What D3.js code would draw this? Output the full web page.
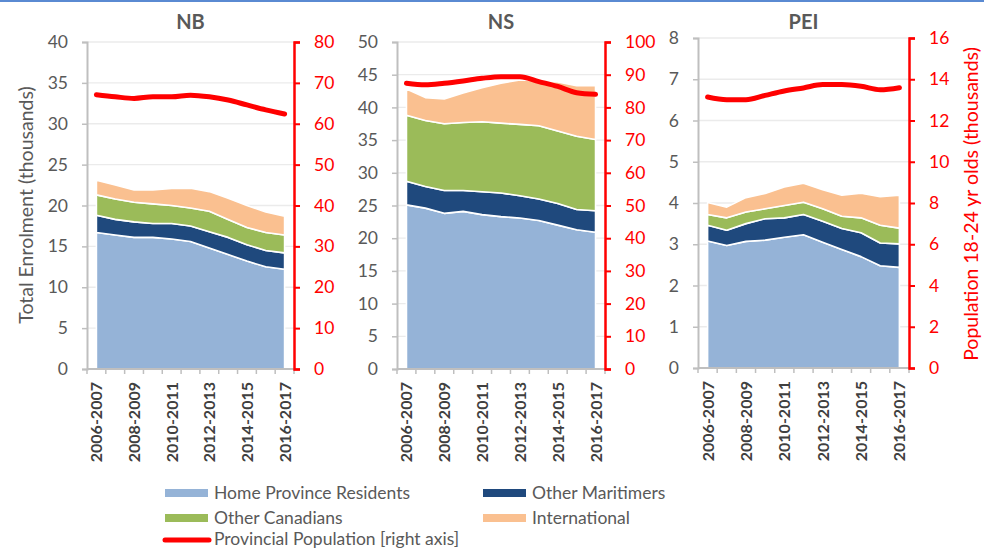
<!DOCTYPE html>
<html><head><meta charset="utf-8">
<script src="https://cdn.jsdelivr.net/npm/d3@7"></script>
<style>
html,body{margin:0;padding:0;background:#fff;}
svg{display:block;font-family:Lato,"Open Sans",sans-serif;}
</style></head>
<body>
<svg id="chart" width="984" height="549"></svg>
<script>
const years = ["2006-2007","2007-2008","2008-2009","2009-2010","2010-2011","2011-2012","2012-2013","2013-2014","2014-2015","2015-2016","2016-2017"];
const seriesNames = ["Home Province Residents","Other Maritimers","Other Canadians","International"];
const popName = "Provincial Population [right axis]";

const nbHome = [16.7,16.4,16.1,16.1,15.9,15.6,14.8,14.0,13.2,12.5,12.2];
const nbOther = [2.1,1.9,1.9,1.7,1.9,1.9,2.0,2.1,2.0,2.0,2.0];
const nbCanadians = [2.5,2.5,2.4,2.4,2.2,2.2,2.5,2.2,2.1,2.2,2.2];
const nbIntl = [1.8,1.7,1.5,1.7,2.1,2.4,2.4,2.6,2.7,2.5,2.3];
const nbPop = [67.1,66.6,66.2,66.6,66.6,67.0,66.6,65.8,64.6,63.4,62.4];

const nsHome = [25.1,24.6,23.8,24.1,23.6,23.3,23.1,22.7,22.0,21.3,20.9];
const nsOther = [3.6,3.3,3.5,3.2,3.5,3.6,3.4,3.3,3.3,3.1,3.3];
const nsCanadians = [10.1,10.1,10.2,10.4,10.7,10.7,10.9,11.2,11.1,11.2,10.9];
const nsIntl = [4.0,3.5,3.8,4.5,5.2,6.1,6.8,6.9,7.5,7.7,8.2];
const nsPop = [87.4,86.9,87.4,88.1,88.9,89.4,89.4,87.9,86.4,84.5,84.0];

const peiHome = [3.08,2.97,3.07,3.10,3.17,3.23,3.05,2.87,2.70,2.48,2.44];
const peiOther = [0.38,0.37,0.43,0.52,0.47,0.49,0.51,0.51,0.58,0.55,0.57];
const peiCanadians = [0.26,0.30,0.28,0.24,0.30,0.30,0.30,0.30,0.36,0.43,0.38];
const peiIntl = [0.29,0.26,0.35,0.37,0.45,0.46,0.46,0.51,0.60,0.69,0.80];
const peiPop = [13.14,13.01,13.01,13.22,13.43,13.58,13.74,13.74,13.66,13.49,13.59];

const nbLeftTicks = [0,5,10,15,20,25,30,35,40];
const nbRightTicks = [0,10,20,30,40,50,60,70,80];
const nsLeftTicks = [0,5,10,15,20,25,30,35,40,45,50];
const nsRightTicks = [0,10,20,30,40,50,60,70,80,90,100];
const peiLeftTicks = [0,1,2,3,4,5,6,7,8];
const peiRightTicks = [0,2,4,6,8,10,12,14,16];

const colors = ["#95b3d7","#1f497d","#9bbb59","#fac090"];
const red = "#ff0000";
const gray = "#595959";

const panels = [
  {title:"NB", series:[nbHome,nbOther,nbCanadians,nbIntl], pop:nbPop, lt:nbLeftTicks, rt:nbRightTicks, x0:87, x1:294, yT:42, yB:369},
  {title:"NS", series:[nsHome,nsOther,nsCanadians,nsIntl], pop:nsPop, lt:nsLeftTicks, rt:nsRightTicks, x0:397, x1:605, yT:42, yB:369},
  {title:"PEI", series:[peiHome,peiOther,peiCanadians,peiIntl], pop:peiPop, lt:peiLeftTicks, rt:peiRightTicks, x0:698, x1:909, yT:38, yB:368}
];

const svg = d3.select("#chart");
svg.append("rect").attr("x",0).attr("y",0).attr("width",984).attr("height",2).attr("fill","#5a8ad2");

panels.forEach(p => {
  const g = svg.append("g");
  const xb = d3.scaleBand().domain(years).range([p.x0,p.x1]).paddingInner(0).paddingOuter(0);
  const cx = d => xb(d) + xb.bandwidth()/2;
  const y = d3.scaleLinear().domain([p.lt[0], p.lt[p.lt.length-1]]).range([p.yB,p.yT]);
  const yr = d3.scaleLinear().domain([p.rt[0], p.rt[p.rt.length-1]]).range([p.yB,p.yT]);

  g.selectAll(".grid").data(p.lt.slice(1)).join("line")
    .attr("x1",p.x0).attr("x2",p.x1).attr("y1",d=>y(d)).attr("y2",d=>y(d))
    .attr("stroke","#ebebeb").attr("stroke-width",1.3);

  const rows = years.map((yy,i)=>{const o={year:yy}; seriesNames.forEach((s,k)=>o[s]=p.series[k][i]); return o;});
  const stacked = d3.stack().keys(seriesNames)(rows);
  const area = d3.area().x(d=>cx(d.data.year)).y0(d=>y(d[0])).y1(d=>y(d[1]));
  g.selectAll(".layer").data(stacked).join("path")
    .attr("d",area).attr("fill",(d,i)=>colors[i])
    .attr("stroke","#fff").attr("stroke-width",1.6).attr("stroke-linejoin","round");

  const la = g.append("g").attr("transform",`translate(${p.x0},0)`)
    .call(d3.axisLeft(y).tickValues(p.lt).tickSize(5).tickPadding(14).tickFormat(d3.format("d")));
  la.select(".domain").attr("stroke","#bfbfbf").attr("stroke-width",2);
  la.selectAll(".tick line").attr("stroke","#bfbfbf").attr("stroke-width",1.5);
  la.selectAll(".tick text").attr("fill",gray).attr("font-size",17.5).attr("font-family","Lato");

  g.append("line").attr("x1",p.x0).attr("x2",p.x1).attr("y1",p.yB).attr("y2",p.yB)
    .attr("stroke","#bfbfbf").attr("stroke-width",2);
  const edges = years.map(d=>xb(d)).concat([p.x1]);
  g.selectAll(".xt").data(edges).join("line")
    .attr("x1",d=>d).attr("x2",d=>d).attr("y1",p.yB).attr("y2",p.yB+5)
    .attr("stroke","#bfbfbf").attr("stroke-width",1.5);
  g.selectAll(".xl").data(years.filter((d,i)=>i%2===0)).join("text")
    .attr("transform",d=>`translate(${cx(d)+6},${p.yB+13}) rotate(-90)`)
    .attr("text-anchor","end").attr("font-size",16).attr("font-weight","bold")
    .attr("fill","#404040").text(d=>d);

  const line = d3.line().x((d,i)=>cx(years[i])).y(d=>yr(d)).curve(d3.curveMonotoneX);
  g.append("path").attr("d",line(p.pop)).attr("fill","none")
    .attr("stroke",red).attr("stroke-width",5).attr("stroke-linecap","round").attr("stroke-linejoin","round");

  const ra = g.append("g").attr("transform",`translate(${p.x1},0)`)
    .call(d3.axisRight(yr).tickValues(p.rt).tickSize(6).tickPadding(14).tickFormat(d3.format("d")));
  ra.select(".domain").attr("stroke",red).attr("stroke-width",2.5);
  ra.selectAll(".tick line").attr("stroke",red).attr("stroke-width",2);
  ra.selectAll(".tick text").attr("fill",red).attr("font-size",17.5).attr("font-family","Lato");

  g.append("text").attr("x",(p.x0+p.x1)/2).attr("y",29).attr("text-anchor","middle")
    .attr("font-size",20).attr("font-weight","bold").attr("fill",gray).text(p.title);
});

svg.append("text").attr("transform","translate(33,205) rotate(-90)").attr("text-anchor","middle")
  .attr("font-size",19.5).attr("fill",gray).text("Total Enrolment (thousands)");
svg.append("text").attr("transform","translate(978,204) rotate(-90)").attr("text-anchor","middle")
  .attr("font-size",19.5).attr("fill",red).text("Population 18-24 yr olds (thousands)");

const legendItems = [
  {name:seriesNames[0], color:colors[0], x:165, y:493},
  {name:seriesNames[1], color:colors[1], x:483, y:493},
  {name:seriesNames[2], color:colors[2], x:165, y:518},
  {name:seriesNames[3], color:colors[3], x:483, y:518}
];
const lg = svg.append("g");
legendItems.forEach(it=>{
  lg.append("rect").attr("x",it.x).attr("y",it.y-4).attr("width",43).attr("height",8).attr("fill",it.color);
  lg.append("text").attr("x",it.x+49).attr("y",it.y+6).attr("font-size",17.5).attr("fill",gray).text(it.name);
});
lg.append("line").attr("x1",165).attr("x2",209).attr("y1",540).attr("y2",540)
  .attr("stroke",red).attr("stroke-width",5).attr("stroke-linecap","round");
lg.append("text").attr("x",214).attr("y",545).attr("font-size",17.5).attr("fill",gray).text(popName);
</script>
</body></html>
